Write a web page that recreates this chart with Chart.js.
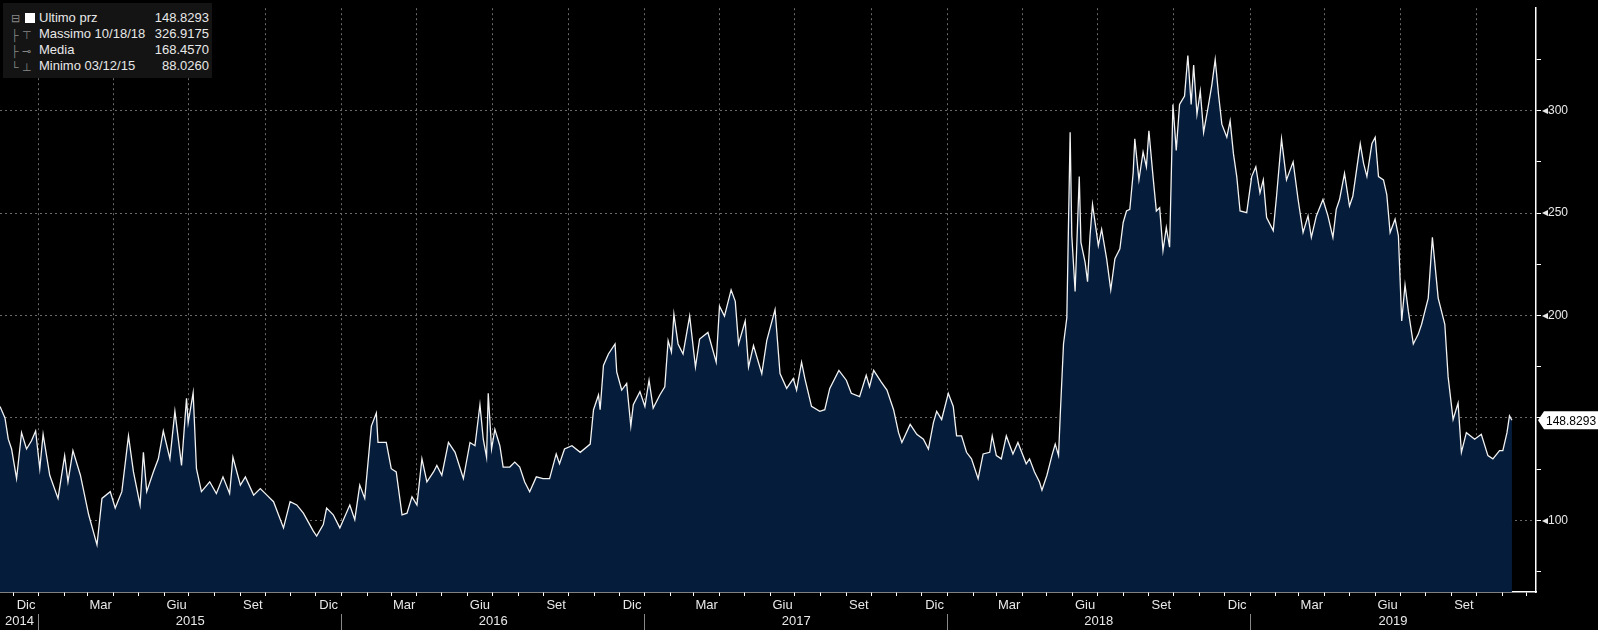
<!DOCTYPE html>
<html><head><meta charset="utf-8">
<script src="https://cdn.jsdelivr.net/npm/chart.js@4.4.1/dist/chart.umd.min.js"></script>
<style>
html,body{margin:0;padding:0;background:#000;overflow:hidden}
#wrap{position:relative;width:1598px;height:630px}
#leg{position:absolute;left:3px;top:3px;width:209px;height:75px;background:#141414;font:13px "Liberation Sans",Arial,sans-serif;color:#e8e8e8}
.r{position:absolute;left:36px;width:170px;height:16px;line-height:16px}
.r span{position:absolute;right:0}
.ic{position:absolute;left:8px;color:#888;font-size:11px;line-height:16px}
#sq{position:absolute;left:22px;top:10px;width:10px;height:10px;background:#fff}
</style></head>
<body><div id="wrap"><canvas id="c" width="1598" height="630"></canvas>
<div id="leg">
<div class="ic" style="top:7px">⊟</div><div id="sq"></div>
<div class="ic" style="top:24px">├ ⊤</div>
<div class="ic" style="top:40px">├ ⊸</div>
<div class="ic" style="top:56px">└ ⊥</div>
<div class="r" style="top:7px">Ultimo prz<span>148.8293</span></div>
<div class="r" style="top:23px">Massimo 10/18/18<span>326.9175</span></div>
<div class="r" style="top:39px">Media<span>168.4570</span></div>
<div class="r" style="top:55px">Minimo 03/12/15<span>88.0260</span></div>
</div></div>
<script>
// days since 2014-11-15
const startDate = Date.UTC(2014,10,15);
const dayOffsets = [0,6,10,14,20,26,32,38,43,48,52,60,70,78,82,88,97,107,117,123,133,139,147,155,161,169,173,177,185,191,197,205,211,219,225,227,233,237,243,253,261,269,277,281,290,296,306,314,322,330,342,350,358,366,378,382,390,394,402,410,422,428,434,440,448,454,456,466,472,478,485,491,497,503,509,515,523,527,533,541,549,559,567,573,579,583,587,589,593,597,603,607,615,621,627,
633,639,647,655,663,671,675,681,690,700,712,716,722,724,728,734,742,744,750,756,761,764,772,778,783,788,796,802,806,810,813,818,824,832,839,844,854,864,868,874,882,887,891,899,903,909,919,925,935,941,949,957,961,967,971,979,989,995,1001,1012,1021,1027,1037,1045,1049,1054,1063,1070,1078,1084,1088,1098,1106,1114,1120,1126,1130,1136,1144,1150,1154,1160,1166,1172,1180,1186,1194,1197,1202,1208,1214,1222,1228,
1238,1242,1248,1254,1257,1263,1269,1273,1277,1279,1283,1287,1291,1293,1297,1302,1304,1309,1312,1315,1318,1325,1329,1335,1340,1345,1351,1355,1359,1363,1367,1369,1374,1379,1383,1386,1391,1395,1399,1403,1407,1411,1415,1419,1423,1429,1433,1437,1440,1444,1448,1452,1458,1462,1466,1470,1474,1480,1484,1488,1492,1496,1504,1510,1515,1520,1524,1528,1536,1540,1546,1552,1560,1566,1572,1578,1582,1588,1596,1602,1608,1612,1616,1622,1628,1632,1641,1645,1649,1655,1659,1663,1669,1673,1677,1683,1687,1691,1695,1699,1705,1711,1715,1723,1728,1735,1743,1747,1753,1759,1763,1769,1779,1787,1795,1801,1809,1813,1818,1821,1824];
const prices = [155.6,150.0,139.6,134.8,120.4,142.8,134.8,138.8,143.6,125.2,142.0,122.0,110.7,131.6,118.8,134.0,122.0,102.7,88.0,110.7,114.0,106.0,114.0,141.2,123.6,107.5,133.2,114.0,123.6,130.0,143.6,130.0,153.2,126.8,159.6,147.6,162.3,125.2,114.0,118.8,113.1,121.2,113.1,130.8,117.2,121.2,112.3,115.5,112.3,109.1,96.3,109.1,107.5,103.5,94.7,92.3,97.9,106.0,102.7,96.3,107.5,100.3,117.2,110.7,146.0,152.4,138.0,138.0,125.2,123.6,102.7,103.5,111.5,107.5,130.0,118.8,123.6,126.8,122.0,138.0,133.2,120.4,138.0,136.4,156.4,139.6,130.8,162.0,134.8,144.4,136.4,126.0,126.0,128.4,126.0,
118.7,113.9,121.2,120.3,120.3,132.4,127.6,134.8,136.4,133.2,137.2,154.0,161.2,154.0,175.6,181.2,186.1,172.4,163.6,166.8,146.0,156.4,162.8,155.6,168.4,154.8,161.2,165.2,187.7,182.1,200.5,186.1,181.2,199.7,174.8,188.5,191.7,177.2,204.5,199.7,212.5,206.9,186.1,197.3,174.8,185.3,171.6,187.7,202.9,171.6,164.4,169.2,163.6,177.2,169.2,155.6,153.2,154.0,164.4,173.2,168.4,162.0,160.4,170.8,165.2,173.2,167.6,163.6,154.0,142.8,138.0,146.8,142.0,139.6,134.8,147.6,153.2,149.2,162.0,155.6,141.2,141.2,133.2,130.0,120.3,132.4,133.2,141.2,131.6,130.0,141.2,132.4,138.0,
127.6,130.0,123.6,118.7,114.7,122.0,131.6,137.2,131.6,150.8,186.1,198.9,289.4,238.9,211.7,267.8,235.7,226.1,216.5,238.9,254.2,234.1,242.1,227.7,212.5,227.7,232.5,245.4,251.0,251.8,269.4,286.2,266.2,279.8,272.6,290.2,267.8,251.0,252.6,231.7,243.0,233.3,303.0,280.6,303.0,307.1,326.9,303.0,322.3,298.2,309.5,289.4,303.0,312.7,325.0,307.9,293.4,287.0,295.0,279.0,267.8,251.0,250.2,267.8,272.6,259.8,266.2,247.8,241.4,258.2,286.2,266.2,275.0,256.6,240.5,248.6,238.1,248.6,256.6,248.6,238.1,251.8,256.6,269.4,253.4,258.2,283.8,274.2,267.8,283.8,287.0,267.8,266.2,259.0,240.5,247.0,238.9,197.3,214.9,202.1,186.1,190.9,195.7,208.5,238.1,208.5,195.7,170.0,149.2,157.2,133.2,142.8,139.6,142.0,131.6,130.0,134.0,134.0,142.8,151.0,148.8293];
const monthNames = ['Gen','Feb','Mar','Apr','Mag','Giu','Lug','Ago','Set','Ott','Nov','Dic'];
const labelMonths = [11,2,5,8];
const yTicks = [75,100,125,150,175,200,225,250,275,300,325];
const yLabelled = [100,200,250,300];
const lastPrice = 148.8293;
const xMax = 1853;

const dOf = (y,m,d)=> (Date.UTC(y,m,d)-startDate)/864e5;
const monthStarts=[], midMonths=[], yearTicks=[];
for(let y=2014;y<=2020;y++)for(let m=0;m<12;m++){
  const s=dOf(y,m,1), e=dOf(y,m+1,1);
  if(s>=0&&s<=xMax) monthStarts.push({v:s,m});
  if(labelMonths.includes(m)){const c=(s+e)/2; if(c>0&&c<xMax) midMonths.push({v:c,l:monthNames[m]});}
}
for(let y=2014;y<=2019;y++){
  const s=Math.max(0,dOf(y,0,1)), e=Math.min(xMax,dOf(y+1,0,1));
  if(dOf(y,0,1)>0) yearTicks.push({v:dOf(y,0,1),l:'',sep:true});
  yearTicks.push({v:(s+e)/2,l:String(y)});
}
const pts = dayOffsets.map((d,i)=>({x:d,y:prices[i]}));

const priceTag={id:'priceTag',afterDraw(ch){
  const c=ch.ctx, ys=ch.scales.y, py=ys.getPixelForValue(lastPrice), x0=ys.left+2;
  c.save(); c.fillStyle='#fff';
  c.beginPath(); c.moveTo(x0,py); c.lineTo(x0+6,py-9); c.lineTo(1598,py-9); c.lineTo(1598,py+9); c.lineTo(x0+6,py+9); c.closePath(); c.fill();
  c.fillStyle='#000'; c.font='12px "Liberation Sans",Arial'; c.textBaseline='middle'; c.fillText(lastPrice.toFixed(4),x0+8,py+1);
  c.restore();
}};
const bg={id:'bg',beforeDraw(ch){const c=ch.ctx;c.save();c.fillStyle='#000';c.fillRect(0,0,ch.width,ch.height);c.restore();}};

const font={family:'"Liberation Sans",Arial,sans-serif',size:13};
const yfont={family:'"Liberation Sans",Arial,sans-serif',size:12};
new Chart(document.getElementById('c'),{
  type:'line',
  data:{datasets:[{data:pts,borderColor:'#f2f2f2',borderWidth:1.3,backgroundColor:'#051d3b',fill:'start',pointRadius:0,tension:0}]},
  options:{responsive:false,animation:false,devicePixelRatio:1,
    layout:{padding:{top:-8,left:0,right:0,bottom:0}},
    plugins:{legend:{display:false},tooltip:{enabled:false}},
    scales:{
      x:{type:'linear',position:'bottom',min:0,max:xMax,
        afterBuildTicks:s=>{s.ticks=monthStarts.map(t=>({value:t.v,m:t.m}));},
        afterFit:s=>{s.height=6;},
        ticks:{callback:()=>'' ,autoSkip:false,maxRotation:0,padding:0,font:{size:1}},
        grid:{color:c=>[0,3,6,9].includes(c.tick&&c.tick.m)?'#6a6a6a':'rgba(0,0,0,0)',tickColor:'#fff',tickLength:4,lineWidth:1},
        border:{color:'#fff',width:1.5,dash:[2,3]}},
      xm:{type:'linear',position:'bottom',min:0,max:xMax,
        afterBuildTicks:s=>{s.ticks=midMonths.map(t=>({value:t.v,label:t.l}));},
        afterFit:s=>{s.height=16;},
        ticks:{autoSkip:false,maxRotation:0,padding:0,color:'#e8e8e8',font,callback:(v,i)=>midMonths[i]?midMonths[i].l:''},
        grid:{display:false,drawTicks:false},border:{display:false}},
      xy:{type:'linear',position:'bottom',min:0,max:xMax,
        afterBuildTicks:s=>{s.ticks=yearTicks.map(t=>({value:t.v,sep:!!t.sep}));},
        afterFit:s=>{s.height=16;},
        ticks:{autoSkip:false,maxRotation:0,padding:-18,color:'#e8e8e8',font,callback:(v,i)=>yearTicks[i]?yearTicks[i].l:''},
        grid:{drawOnChartArea:false,drawTicks:true,tickLength:18,tickColor:c=>c.tick&&c.tick.sep?'#888':'rgba(0,0,0,0)'},border:{display:false}},
      y:{position:'right',min:65,max:350,
        afterBuildTicks:s=>{s.ticks=yTicks.map(v=>({value:v}));},
        afterFit:s=>{s.width=62;},
        ticks:{color:'#e8e8e8',font:yfont,padding:1,autoSkip:false,callback:v=>yLabelled.includes(v)?'◂'+v:''},
        grid:{color:c=>(c.tick&&c.tick.value%50===0)?'#6a6a6a':'rgba(0,0,0,0)',tickColor:'#fff',tickLength:5},
        border:{color:'#fff',width:1.5,dash:[2,3]}}
    }
  },
  plugins:[bg,priceTag]
});
</script></body></html>
